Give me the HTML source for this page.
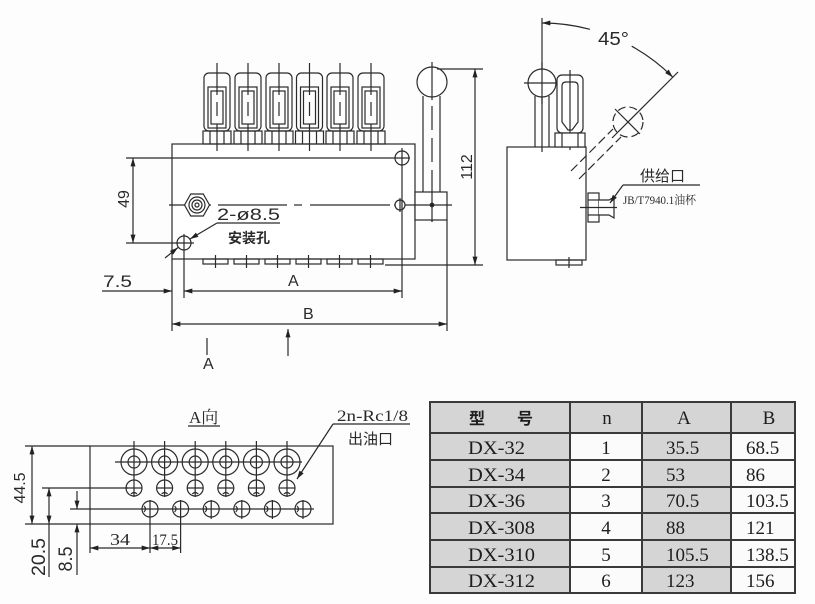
<!DOCTYPE html>
<html><head><meta charset="utf-8">
<style>
html,body{margin:0;padding:0;background:#fdfdfd;}
svg{display:block;}
.s{font-family:"Liberation Sans","Noto Sans CJK SC",sans-serif;}
.r{font-family:"Liberation Serif","Noto Serif CJK SC","Noto Sans CJK SC",serif;}
.c{font-family:"Liberation Sans","Noto Sans CJK SC",sans-serif;}
</style></head>
<body>
<svg width="815" height="604" viewBox="0 0 815 604" xmlns="http://www.w3.org/2000/svg">
<defs>
<marker id="a" viewBox="0 0 10 6" refX="10" refY="3" markerWidth="9" markerHeight="5" markerUnits="userSpaceOnUse" orient="auto-start-reverse"><path d="M0,0 L10,3 L0,6 z" fill="#222"/></marker>
</defs>
<rect width="815" height="604" fill="#fdfdfd"/>

<!-- ===== MAIN FRONT VIEW ===== -->
<g stroke="#2a2a2a" stroke-width="1.2" fill="none">
  <rect x="172" y="144" width="243" height="115" fill="#fff"/>
  <g id="fit">
    <rect x="204" y="73" width="26" height="58" rx="5"/>
    <rect x="208" y="87" width="18" height="41"/>
    <rect x="211" y="91" width="12" height="33"/>
    <rect x="203" y="131" width="28" height="13"/>
    <line x1="210" y1="131" x2="210" y2="144"/>
    <line x1="224" y1="131" x2="224" y2="144"/>
    <line x1="217" y1="63" x2="217" y2="95"/>
    <line x1="217" y1="102" x2="217" y2="116"/>
    <line x1="217" y1="124" x2="217" y2="151"/>
  </g>
  <use href="#fit" x="31"/>
  <use href="#fit" x="62"/>
  <use href="#fit" x="92.5"/>
  <use href="#fit" x="123"/>
  <use href="#fit" x="154"/>
  <g id="bf">
    <rect x="203" y="259" width="25" height="5"/>
    <line x1="215.5" y1="255" x2="215.5" y2="268"/>
  </g>
  <use href="#bf" x="31"/>
  <use href="#bf" x="62"/>
  <use href="#bf" x="93"/>
  <use href="#bf" x="124"/>
  <use href="#bf" x="155"/>

  <circle cx="402" cy="158" r="7"/>
  <line x1="423" y1="96" x2="423" y2="192"/>
  <line x1="440" y1="96" x2="440" y2="192"/>
  <circle cx="432" cy="82" r="15" fill="#fff"/>
  <line x1="432" y1="62" x2="432" y2="100"/>
  <line x1="432" y1="106" x2="432" y2="130" />
  <line x1="432" y1="138" x2="432" y2="162"/>
  <line x1="432" y1="170" x2="432" y2="222"/>
  <rect x="415" y="192" width="32" height="28" fill="#fff"/>
  <line x1="432" y1="192" x2="432" y2="222"/>
  <circle cx="432" cy="205" r="1.8" fill="#222"/>

  <line x1="169" y1="205" x2="211" y2="205"/>
  <line x1="218" y1="205" x2="287" y2="205"/>
  <line x1="294" y1="205" x2="302" y2="205"/>
  <line x1="310" y1="205" x2="390" y2="205"/>
  <line x1="394" y1="205" x2="452" y2="205"/>
  <polygon points="184.5,205 190.75,194 203.25,194 209.5,205 203.25,216 190.75,216" fill="#fff"/>
  <circle cx="197" cy="205" r="8"/>
  <circle cx="197" cy="205" r="5"/>
  <circle cx="197" cy="205" r="2"/>
  <circle cx="400" cy="205" r="5" fill="#fff"/>
  <line x1="400" y1="198" x2="400" y2="212"/>

  <circle cx="184" cy="243" r="7"/>
  <line x1="184" y1="234" x2="184" y2="298"/>

  <line x1="126" y1="158" x2="410" y2="158"/>
  <line x1="126" y1="243" x2="194" y2="243"/>
  <line x1="133" y1="158" x2="133" y2="243" marker-start="url(#a)" marker-end="url(#a)"/>
  <line x1="172" y1="259" x2="172" y2="331"/>
  <line x1="402" y1="148" x2="402" y2="298"/>
  <line x1="447" y1="220" x2="447" y2="331"/>
  <line x1="102" y1="291" x2="172" y2="291" marker-end="url(#a)"/>
  <line x1="184" y1="291" x2="402" y2="291" marker-start="url(#a)" marker-end="url(#a)"/>
  <line x1="172" y1="324" x2="447" y2="324" marker-start="url(#a)" marker-end="url(#a)"/>
  <line x1="437" y1="69" x2="483" y2="69"/>
  <line x1="385" y1="265" x2="483" y2="265"/>
  <line x1="475" y1="69" x2="475" y2="265" marker-start="url(#a)" marker-end="url(#a)"/>
  <line x1="207" y1="338" x2="207" y2="355"/>
  <line x1="288" y1="356" x2="288" y2="329" marker-end="url(#a)"/>
  <line x1="165" y1="258" x2="178" y2="247.5" marker-end="url(#a)"/>
  <line x1="217" y1="223" x2="190" y2="239" marker-end="url(#a)"/>
  <line x1="217" y1="223" x2="280" y2="223"/>
</g>
<g fill="#2a2a2a">
  <text class="s" font-size="16" text-anchor="middle" transform="translate(129,199) rotate(-90)">49</text>
  <text class="s" font-size="16" text-anchor="middle" transform="translate(472,167) rotate(-90)">112</text>
  <text class="s" font-size="17" x="103" y="287" textLength="29" lengthAdjust="spacingAndGlyphs">7.5</text>
  <text class="s" font-size="16" x="288" y="286">A</text>
  <text class="s" font-size="16" x="303" y="319">B</text>
  <text class="s" font-size="16" x="203" y="369">A</text>
  <text class="s" font-size="17" x="217" y="220" textLength="63" lengthAdjust="spacingAndGlyphs">2-ø8.5</text>
  <text class="c" font-size="14" font-weight="bold" x="228" y="243">安装孔</text>
</g>

<!-- ===== RIGHT SIDE VIEW ===== -->
<g stroke="#2a2a2a" stroke-width="1.2" fill="none">
  <rect x="507" y="147" width="79" height="113" fill="#fff"/>
  <rect x="556" y="260" width="26" height="5"/>
  <line x1="569" y1="257" x2="569" y2="268"/>
  <line x1="542" y1="18" x2="542" y2="152"/>
  <line x1="535" y1="96" x2="535" y2="147"/>
  <line x1="549" y1="96" x2="549" y2="147"/>
  <circle cx="542" cy="83" r="14" fill="#fff"/>
  <line x1="542" y1="62" x2="542" y2="104"/>
  <line x1="524" y1="83" x2="560" y2="83"/>
  <rect x="557" y="75" width="26" height="58" rx="5" fill="#fff"/>
  <path d="M562,86 Q562,82 566,82 L574,82 Q578,82 578,86 L578,122 L572,130 L568,130 L562,122 Z"/>
  <line x1="570" y1="70" x2="570" y2="150"/>
  <rect x="555" y="133" width="30" height="14" fill="#fff"/>
  <line x1="562" y1="133" x2="562" y2="147"/>
  <line x1="578" y1="133" x2="578" y2="147"/>
  <line x1="571" y1="171" x2="613" y2="129" stroke-dasharray="9 4"/>
  <line x1="579" y1="179" x2="621" y2="137" stroke-dasharray="9 4"/>
  <circle cx="628" cy="122" r="15" stroke-dasharray="8 4"/>
  <line x1="612" y1="138" x2="678" y2="72"/>
  <line x1="615" y1="109" x2="640" y2="134"/>
  <path d="M589.9,29.3 A185,185 0 0,0 542,23" marker-end="url(#a)"/>
  <path d="M631.7,46.2 A185,185 0 0,1 672.8,77.2" marker-end="url(#a)"/>
  <rect x="588" y="193" width="11" height="29" fill="#fff"/>
  <line x1="588" y1="200" x2="599" y2="200"/>
  <line x1="588" y1="215" x2="599" y2="215"/>
  <path d="M599,200 L609,200 L614,197 L614,218 L609,215 L599,215" fill="#fff"/>
  <line x1="580" y1="207.5" x2="617" y2="207.5"/>
  <line x1="623" y1="185" x2="610" y2="203" marker-end="url(#a)"/>
  <line x1="623" y1="185" x2="700" y2="185"/>
</g>
<g fill="#2a2a2a">
  <text class="s" font-size="18" x="598" y="45" textLength="31" lengthAdjust="spacingAndGlyphs">45°</text>
  <text class="c" font-size="15" x="640" y="181">供给口</text>
  <text class="r" font-size="12" x="623" y="204" textLength="73" lengthAdjust="spacingAndGlyphs">JB/T7940.1油杯</text>
</g>

<!-- ===== A VIEW ===== -->
<g stroke="#2a2a2a" stroke-width="1.2" fill="none">
  <rect x="90" y="446" width="243" height="78"/>
  <line x1="90" y1="524" x2="90" y2="553"/>
  <line x1="25" y1="446" x2="90" y2="446"/>
  <line x1="25" y1="524" x2="90" y2="524"/>
  <line x1="32" y1="446" x2="32" y2="524" marker-start="url(#a)" marker-end="url(#a)"/>
  <line x1="42" y1="488" x2="128" y2="488"/>
  <line x1="49" y1="488" x2="49" y2="524" marker-start="url(#a)" marker-end="url(#a)"/>
  <line x1="49" y1="524" x2="49" y2="577"/>
  <line x1="70" y1="509" x2="314" y2="509"/>
  <line x1="77" y1="491" x2="77" y2="509" marker-end="url(#a)"/>
  <line x1="77" y1="542" x2="77" y2="524" marker-end="url(#a)"/>
  <line x1="77" y1="542" x2="77" y2="575"/>
  <line x1="115" y1="462" x2="302" y2="462"/>
  <g id="r1">
    <circle cx="134" cy="462" r="13"/>
    <circle cx="134" cy="462" r="6"/>
    <line x1="134" y1="441" x2="134" y2="497"/>
    <circle cx="134" cy="488" r="8"/>
    <line x1="126" y1="488" x2="142" y2="488"/>
    <path d="M131,494 q3,-3 6,0"/>
  </g>
  <use href="#r1" x="30.6"/>
  <use href="#r1" x="61.2"/>
  <use href="#r1" x="91.8"/>
  <use href="#r1" x="122.4"/>
  <use href="#r1" x="153"/>
  <g id="r3">
    <circle cx="150" cy="509" r="8"/>
    <line x1="150" y1="500" x2="150" y2="519"/>
    <path d="M144,506 q3,3 0,6"/>
  </g>
  <use href="#r3" x="30.6"/>
  <use href="#r3" x="61.2"/>
  <use href="#r3" x="91.8"/>
  <use href="#r3" x="122.4"/>
  <use href="#r3" x="153"/>
  <line x1="150" y1="519" x2="150" y2="553"/>
  <line x1="180.6" y1="519" x2="180.6" y2="553"/>
  <line x1="90" y1="548" x2="150" y2="548" marker-start="url(#a)" marker-end="url(#a)"/>
  <line x1="150" y1="548" x2="180.6" y2="548" marker-start="url(#a)" marker-end="url(#a)"/>
  <line x1="188" y1="426" x2="220" y2="426"/>
  <line x1="333" y1="424" x2="410" y2="424"/>
  <line x1="333" y1="424" x2="297" y2="479" marker-end="url(#a)"/>
</g>
<g fill="#2a2a2a">
  <text class="s" font-size="16" text-anchor="middle" transform="translate(25,488) rotate(-90)" textLength="31" lengthAdjust="spacingAndGlyphs">44.5</text>
  <text class="s" font-size="19" text-anchor="middle" transform="translate(45,557) rotate(-90)" textLength="38" lengthAdjust="spacingAndGlyphs">20.5</text>
  <text class="s" font-size="19" text-anchor="middle" transform="translate(72,559) rotate(-90)" textLength="25" lengthAdjust="spacingAndGlyphs">8.5</text>
  <text class="r" font-size="17" x="110" y="545" textLength="20" lengthAdjust="spacingAndGlyphs">34</text>
  <text class="r" font-size="16" x="152" y="545" textLength="26" lengthAdjust="spacingAndGlyphs">17.5</text>
  <text class="r" font-size="17" x="189" y="423">A向</text>
  <text class="r" font-size="16" x="337" y="421" textLength="71" lengthAdjust="spacingAndGlyphs">2n-Rc1/8</text>
  <text class="c" font-size="15" x="348" y="444">出油口</text>
</g>

<!-- ===== TABLE ===== -->
<g>
  <rect x="430" y="402" width="365" height="191" fill="#d5d5d5"/>
  <rect x="570" y="433" width="72" height="160" fill="#fbfbfb"/>
  <rect x="731" y="433" width="64" height="160" fill="#fbfbfb"/>
  <g stroke="#3a3a3a" stroke-width="2" fill="none">
    <rect x="430" y="402" width="365" height="191"/>
    <line x1="430" y1="433" x2="795" y2="433"/>
    <line x1="430" y1="460" x2="795" y2="460"/>
    <line x1="430" y1="487" x2="795" y2="487"/>
    <line x1="430" y1="513" x2="795" y2="513"/>
    <line x1="430" y1="540" x2="795" y2="540"/>
    <line x1="430" y1="567" x2="795" y2="567"/>
    <line x1="570" y1="402" x2="570" y2="593"/>
    <line x1="642" y1="402" x2="642" y2="593"/>
    <line x1="731" y1="402" x2="731" y2="593"/>
  </g>
  <g fill="#1e1e1e" class="r" font-size="19">
    <text class="c" font-size="16" font-weight="bold" x="469" y="424">型</text>
    <text class="c" font-size="16" font-weight="bold" x="517" y="424">号</text>
    <text x="607" y="424" text-anchor="middle">n</text>
    <text x="684" y="424" text-anchor="middle">A</text>
    <text x="769" y="424" text-anchor="middle">B</text>

    <text x="468" y="454" textLength="57" lengthAdjust="spacingAndGlyphs">DX-32</text>
    <text x="468" y="481" textLength="57" lengthAdjust="spacingAndGlyphs">DX-34</text>
    <text x="468" y="507" textLength="57" lengthAdjust="spacingAndGlyphs">DX-36</text>
    <text x="468" y="534" textLength="67" lengthAdjust="spacingAndGlyphs">DX-308</text>
    <text x="468" y="561" textLength="67" lengthAdjust="spacingAndGlyphs">DX-310</text>
    <text x="468" y="587" textLength="67" lengthAdjust="spacingAndGlyphs">DX-312</text>

    <text x="606" y="454" text-anchor="middle">1</text>
    <text x="606" y="481" text-anchor="middle">2</text>
    <text x="606" y="507" text-anchor="middle">3</text>
    <text x="606" y="534" text-anchor="middle">4</text>
    <text x="606" y="561" text-anchor="middle">5</text>
    <text x="606" y="587" text-anchor="middle">6</text>

    <text x="666" y="454">35.5</text>
    <text x="666" y="481">53</text>
    <text x="666" y="507">70.5</text>
    <text x="666" y="534">88</text>
    <text x="666" y="561">105.5</text>
    <text x="666" y="587">123</text>

    <text x="746" y="454">68.5</text>
    <text x="746" y="481">86</text>
    <text x="746" y="507">103.5</text>
    <text x="746" y="534">121</text>
    <text x="746" y="561">138.5</text>
    <text x="746" y="587">156</text>
  </g>
</g>
</svg>
</body></html>
